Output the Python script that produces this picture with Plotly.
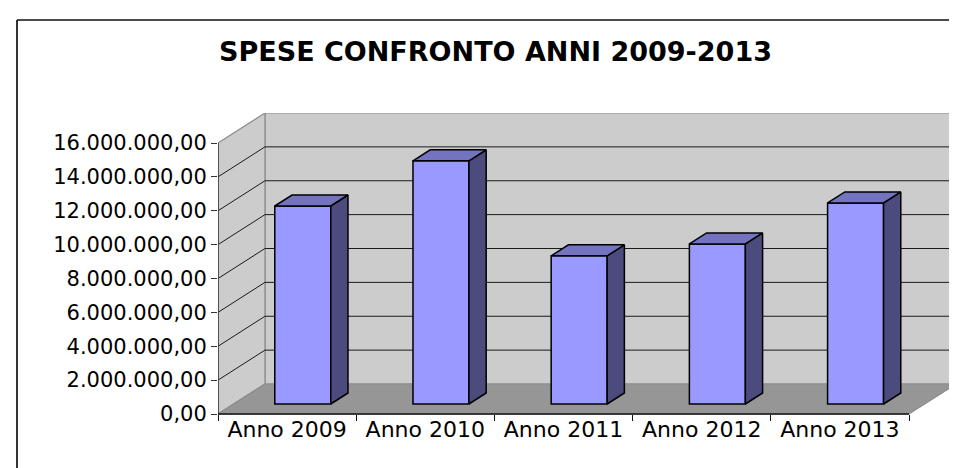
import plotly.graph_objects as go

# ---------------- data ----------------
categories = ["Anno 2009", "Anno 2010", "Anno 2011", "Anno 2012", "Anno 2013"]
spese = [11690000, 14360000, 8750000, 9450000, 11870000]
y_tick_values = [0, 2000000, 4000000, 6000000, 8000000, 10000000, 12000000, 14000000, 16000000]
y_tick_labels = ["0,00", "2.000.000,00", "4.000.000,00", "6.000.000,00", "8.000.000,00",
                 "10.000.000,00", "12.000.000,00", "14.000.000,00", "16.000.000,00"]
title_text = "SPESE CONFRONTO ANNI 2009-2013"

# ---------------- geometry / style ----------------
W, H = 957, 468
ML, MR, MT, MB = 210, 9, 105, 54
PW, PH = W - ML - MR, H - MT - MB
n = len(categories)
DX = 0.34            # depth offset in category units
YMAX_FRONT = y_tick_values[-1]
PX_PER_VAL = 271.0 / YMAX_FRONT
DY = 30.0 / PX_PER_VAL   # depth offset in value units
YMIN = -8.0 / PX_PER_VAL
XMIN, XMAX = -0.5, n - 0.5 + DX
YMAX = YMAX_FRONT + DY
BW = 0.405
F1, F2 = 1.0 / 3.0, 0.7
ZERO_POS = (0 - YMIN) / (YMAX - YMIN)

FONT = "DejaVu Sans, Verdana, sans-serif"
WALL = "#cccccc"
FLOOR = "#969696"
EDGE = "#8c8c8c"
GRID = "#1a1a1a"
FRONT = "#9999ff"
SIDE = "#4b4b7d"
TOP = "#7373c0"


def px_to_paper_x(px):
    return (px - ML) / PW


def px_to_paper_y(py):
    return (H - MB - py) / PH


fig = go.Figure()
shapes = []

# back wall
shapes.append(dict(type="path", xref="x", yref="y", layer="below",
                   path=f"M{XMIN+DX},{DY} L{XMIN+DX},{YMAX} L{XMAX},{YMAX} L{XMAX},{DY} Z",
                   fillcolor=WALL, line=dict(color=EDGE, width=1.2)))
# side wall
shapes.append(dict(type="path", xref="x", yref="y", layer="below",
                   path=f"M{XMIN},0 L{XMIN},{YMAX_FRONT} L{XMIN+DX},{YMAX} L{XMIN+DX},{DY} Z",
                   fillcolor=WALL, line=dict(color=EDGE, width=1.2)))
# floor
shapes.append(dict(type="path", xref="x", yref="y", layer="below",
                   path=f"M{XMIN},0 L{XMIN+DX},{DY} L{XMAX},{DY} L{n-0.5},0 Z",
                   fillcolor=FLOOR, line=dict(color=EDGE, width=1.2)))
# gridlines on back wall + side wall
for v in y_tick_values[1:-1]:
    shapes.append(dict(type="line", xref="x", yref="y", layer="below",
                       x0=XMIN + DX, x1=XMAX, y0=v + DY, y1=v + DY,
                       line=dict(color=GRID, width=1)))
    shapes.append(dict(type="line", xref="x", yref="y", layer="below",
                       x0=XMIN, x1=XMIN + DX, y0=v, y1=v + DY,
                       line=dict(color=GRID, width=1)))
# front axis lines
shapes.append(dict(type="line", xref="x", yref="y", x0=XMIN, x1=XMIN, y0=0, y1=YMAX_FRONT,
                   line=dict(color="#333333", width=1.5)))
shapes.append(dict(type="line", xref="x", yref="y", x0=XMIN, x1=n - 0.5, y0=0, y1=0,
                   line=dict(color="#111111", width=1.5)))
# outer chart frame
shapes.append(dict(type="line", xref="paper", yref="paper",
                   x0=px_to_paper_x(9), x1=px_to_paper_x(9),
                   y0=px_to_paper_y(12), y1=px_to_paper_y(480),
                   line=dict(color="#333333", width=2)))
shapes.append(dict(type="line", xref="paper", yref="paper",
                   x0=px_to_paper_x(9), x1=px_to_paper_x(970),
                   y0=px_to_paper_y(12), y1=px_to_paper_y(12),
                   line=dict(color="#111111", width=1.3)))

# bars: side and top faces
for i, v in enumerate(spese):
    xl1, xr1 = i + F1 * DX - BW / 2, i + F1 * DX + BW / 2
    xl2, xr2 = i + F2 * DX - BW / 2, i + F2 * DX + BW / 2
    y1b, y2b = F1 * DY, F2 * DY
    fig.add_trace(go.Scatter(
        x=[xr1, xr2, xr2, xr1, xr1], y=[y1b, y2b, v + y2b, v + y1b, y1b],
        fill="toself", fillcolor=SIDE, mode="lines",
        line=dict(color="#000000", width=1.5), hoverinfo="skip", showlegend=False))
    fig.add_trace(go.Scatter(
        x=[xl1, xl2, xr2, xr1, xl1], y=[v + y1b, v + y2b, v + y2b, v + y1b, v + y1b],
        fill="toself", fillcolor=TOP, mode="lines",
        line=dict(color="#000000", width=1.5), hoverinfo="skip", showlegend=False))

# bars: front faces
fig.add_trace(go.Bar(
    x=[i + F1 * DX for i in range(n)], y=spese, base=[F1 * DY] * n, width=BW,
    marker=dict(color=FRONT, line=dict(color="#000000", width=1.5)),
    hoverinfo="skip", showlegend=False))

# invisible trace on the overlay axis carrying the category boundary ticks
fig.add_trace(go.Scatter(x=[XMIN, XMAX], y=[0, 0], xaxis="x2", mode="markers",
                         marker=dict(opacity=0), hoverinfo="skip", showlegend=False))

fig.update_layout(
    width=W, height=H,
    margin=dict(l=ML, r=MR, t=MT, b=MB),
    paper_bgcolor="white", plot_bgcolor="white",
    shapes=shapes,
    showlegend=False,
    font=dict(family=FONT, color="#000000"),
    title=dict(text=f"<b>{title_text}</b>", xref="container", yref="container",
               x=487.5 / W, y=1 - 44 / H, xanchor="center", yanchor="middle",
               font=dict(family=FONT, size=27, color="#000000")),
    xaxis=dict(range=[XMIN, XMAX], tickvals=list(range(n)), ticktext=categories,
               anchor="free", position=ZERO_POS,
               ticks="", showgrid=False, zeroline=False, showline=False,
               tickfont=dict(size=22, family=FONT, color="#000000"), fixedrange=True),
    xaxis2=dict(range=[XMIN, XMAX], overlaying="x", anchor="free", position=ZERO_POS,
                side="bottom", tickvals=[i - 0.5 for i in range(n + 1)],
                ticks="outside", ticklen=6, tickcolor="#111111", tickwidth=1.2,
                showticklabels=False, showgrid=False, zeroline=False, showline=False,
                fixedrange=True),
    yaxis=dict(range=[YMIN, YMAX], tickvals=y_tick_values, ticktext=y_tick_labels,
               ticks="outside", ticklen=6, tickcolor="#333333", tickwidth=1.2,
               showgrid=False, zeroline=False, showline=False,
               tickfont=dict(size=21, family=FONT, color="#000000"), fixedrange=True),
    hovermode=False,
)

fig.write_html("out.html")
